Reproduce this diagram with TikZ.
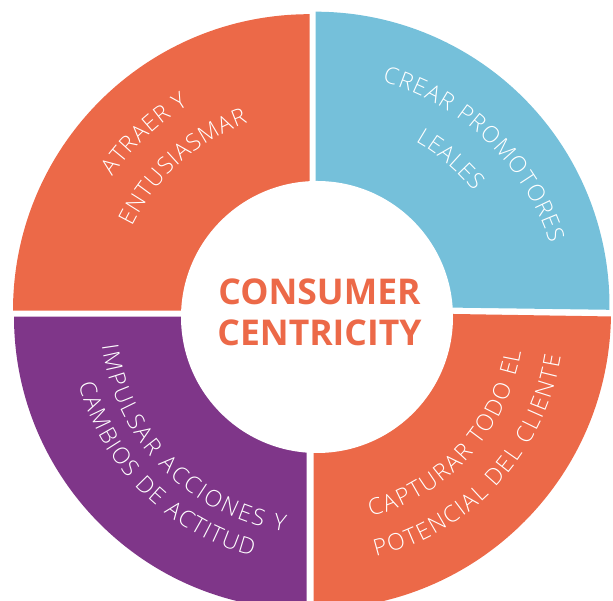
\documentclass[tikz,border=0pt]{standalone}
\usepackage{fontspec}
\setmainfont{Open Sans}
\newfontfamily\labelfont{Open Sans Light}
\usetikzlibrary{decorations.text}
\definecolor{ringorange}{RGB}{236,105,72}
\definecolor{ringblue}{RGB}{117,192,218}
\definecolor{ringpurple}{RGB}{127,54,137}
\newcommand\arcfont{\labelfont\fontsize{23}{25}\selectfont}

\begin{document}
\begin{tikzpicture}[x=1pt,y=1pt,
        arclabel/.style={decorate, decoration={text along path,
            text={|\arcfont\color{white}|#1}, text align={fit to path}}}]
    \useasboundingbox (0,0) rectangle (613,601);
    \clip (0,0) rectangle (613,601);
    \coordinate (hub) at (317,284);
    % four quadrants
    \fill[ringorange] (309.5,290.3) -- ++(180:296.5) arc[start angle=180, end angle=90, radius=296.5] -- cycle;
    \fill[ringblue] (315.5,295.3) -- ++(90:294) arc[start angle=90, end angle=-0.8, radius=294] -- cycle;
    \fill[ringpurple] (306.7,284.3) -- ++(180:292.7) arc[start angle=180, end angle=270, radius=292.7] -- cycle;
    \fill[ringorange] (313.5,289.2) -- ++(-0.9:297.5) arc[start angle=-0.9, end angle=-90, radius=297.5] -- cycle;
    \fill[white] (hub) circle[radius=136];
    \node[font=\bfseries\fontsize{35.5}{41}\selectfont, text=ringorange, align=center, inner sep=0pt]
        (core) at (319.5,288.8) {CONSUMER\\CENTRICITY};
    % labels
    \path[arclabel={ATRAER Y}] ([shift={(145.4:248)}]hub) arc[start angle=145.4, end angle=121.2, radius=248];
    \path[arclabel={ENTUSIASMAR}] ([shift={(154:206)}]hub) arc[start angle=154, end angle=109.6, radius=206];
    \path[arclabel={CREAR PROMOTORES}] ([shift={(74.5:244)}]hub) arc[start angle=74.5, end angle=17.5, radius=244];
    \path[arclabel={LEALES}] ([shift={(60.7:201)}]hub) arc[start angle=60.7, end angle=38.8, radius=201];
    \path[arclabel={IMPULSAR ACCIONES Y}] ([shift={(187.6:217)}]hub) arc[start angle=187.6, end angle=261.4, radius=217];
    \path[arclabel={CAMBIOS DE ACTITUD}] ([shift={(195.8:248)}]hub) arc[start angle=195.8, end angle=254.9, radius=248];
    \path[arclabel={CAPTURAR TODO EL}] ([shift={(-74.9:207)}]hub) arc[start angle=-74.9, end angle=-9.6, radius=207];
    \path[arclabel={POTENCIAL DEL CLIENTE}] ([shift={(-76.2:247)}]hub) arc[start angle=-76.2, end angle=-9.2, radius=247];
\end{tikzpicture}
\end{document}
